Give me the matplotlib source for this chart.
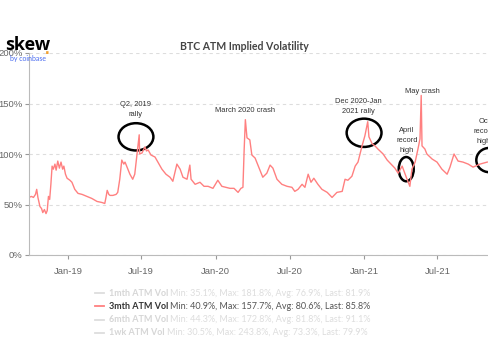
import matplotlib
matplotlib.use("Agg")
import matplotlib.pyplot as plt
import matplotlib.dates as mdates
from matplotlib.patches import Ellipse
import pandas as pd

# 3 month ATM implied vol
dates = [
    "2018-09-27", "2018-10-03", "2018-10-08", "2018-10-13", "2018-10-16", "2018-10-19",
    "2018-10-24", "2018-10-28", "2018-10-31", "2018-11-04", "2018-11-08", "2018-11-11",
    "2018-11-14", "2018-11-17", "2018-11-20", "2018-11-23", "2018-11-26", "2018-11-30",
    "2018-12-03", "2018-12-07", "2018-12-11", "2018-12-15", "2018-12-19", "2018-12-22",
    "2018-12-26", "2018-12-30", "2019-01-06", "2019-01-11", "2019-01-18", "2019-01-26",
    "2019-02-05", "2019-02-17", "2019-03-01", "2019-03-14", "2019-03-26", "2019-04-02",
    "2019-04-05", "2019-04-08", "2019-04-12", "2019-04-15", "2019-04-22", "2019-04-30",
    "2019-05-04", "2019-05-09", "2019-05-14", "2019-05-19", "2019-05-22", "2019-05-27",
    "2019-06-03", "2019-06-10", "2019-06-15", "2019-06-20", "2019-06-26", "2019-06-27",
    "2019-07-03", "2019-07-10", "2019-07-14", "2019-07-18", "2019-07-25", "2019-08-04",
    "2019-08-11", "2019-08-21", "2019-08-31", "2019-09-10", "2019-09-17", "2019-09-27",
    "2019-10-05", "2019-10-12", "2019-10-22", "2019-10-29", "2019-11-01", "2019-11-11",
    "2019-11-23", "2019-12-03", "2019-12-13", "2019-12-25", "2020-01-06", "2020-01-16",
    "2020-01-26", "2020-02-05", "2020-02-15", "2020-02-25", "2020-03-03", "2020-03-08",
    "2020-03-11", "2020-03-14", "2020-03-18", "2020-03-25", "2020-03-30", "2020-04-07",
    "2020-04-14", "2020-04-26", "2020-05-06", "2020-05-14", "2020-05-21", "2020-05-31",
    "2020-06-12", "2020-06-25", "2020-07-07", "2020-07-14", "2020-07-22", "2020-08-01",
    "2020-08-08", "2020-08-16", "2020-08-23", "2020-08-30", "2020-09-09", "2020-09-19",
    "2020-10-02", "2020-10-14", "2020-10-26", "2020-11-08", "2020-11-15", "2020-11-22",
    "2020-12-02", "2020-12-10", "2020-12-17", "2020-12-27", "2021-01-03", "2021-01-10",
    "2021-01-13", "2021-01-21", "2021-01-28", "2021-02-04", "2021-02-17", "2021-02-27",
    "2021-03-11", "2021-03-18", "2021-03-26", "2021-04-05", "2021-04-17", "2021-04-24",
    "2021-04-29", "2021-05-07", "2021-05-14", "2021-05-19", "2021-05-22", "2021-05-24",
    "2021-05-31", "2021-06-05", "2021-06-18", "2021-06-30", "2021-07-12", "2021-07-25",
    "2021-08-01", "2021-08-11", "2021-08-21", "2021-09-02", "2021-09-15", "2021-09-27",
    "2021-10-14", "2021-11-01",
]
vol_3m = [
    57, 58, 57, 60, 65, 57,
    48, 46, 42, 45, 41, 44,
    58, 55, 70, 88, 85, 90,
    84, 93, 86, 92, 85, 88,
    80, 76, 74, 72, 65, 61,
    60, 58, 56, 53, 52, 51,
    57, 64, 60, 59, 59, 60,
    62, 75, 94, 90, 92, 87,
    80, 75, 80, 98, 119, 100,
    101, 107, 103, 104, 99, 97,
    92, 85, 80, 77, 73, 90,
    85, 77, 75, 89, 75, 70,
    72, 68, 68, 66, 74, 68,
    67, 66, 66, 62, 66, 67,
    104, 134, 116, 114, 99, 96,
    89, 77, 81, 89, 86, 75,
    70, 68, 67, 63, 65, 70,
    67, 80, 72, 76, 70, 65,
    62, 57, 62, 63, 75, 74,
    78, 88, 92, 108, 118, 132,
    117, 110, 108, 105, 100, 94,
    89, 86, 81, 88, 75, 68,
    85, 92, 105, 115, 158, 108,
    105, 100, 95, 92, 85, 80,
    87, 100, 93, 92, 90, 87,
    90, 92,
]

legend_names = ["1mth ATM Vol", "3mth ATM Vol", "6mth ATM Vol", "1wk ATM Vol"]
legend_stats = [
    "Min: 35.1%, Max: 181.8%, Avg: 76.9%, Last: 81.9%",
    "Min: 40.9%, Max: 157.7%, Avg: 80.6%, Last: 85.8%",
    "Min: 44.3%, Max: 172.8%, Avg: 81.8%, Last: 91.1%",
    "Min: 30.5%, Max: 243.8%, Avg: 73.3%, Last: 79.9%",
]

plt.rcParams["font.family"] = "Liberation Sans"

df = pd.DataFrame({"date": pd.to_datetime(dates), "vol": vol_3m})

fig = plt.figure(figsize=(4.88, 3.59), dpi=100)
ax = fig.add_axes([29 / 488, 104 / 359, 470 / 488, 202 / 359])
ax.plot(df["date"], df["vol"], color="#ff8080", lw=1.0)

ax.set_xlim(pd.Timestamp("2018-09-27"), pd.Timestamp("2021-11-30"))
ax.set_ylim(0, 200)
ax.set_yticks([0, 50, 100, 150, 200])
ax.set_yticklabels(["0%", "50%", "100%", "150%", "200%"])
ax.xaxis.set_major_locator(mdates.MonthLocator(bymonth=[1, 7]))
ax.xaxis.set_major_formatter(mdates.DateFormatter("%b-%y"))
ax.tick_params(axis="both", labelsize=6.8, colors="#999999", labelcolor="#666666", length=3)
ax.tick_params(axis="x", pad=6)
ax.tick_params(axis="y", pad=1.5)
for side in ["top", "right"]:
    ax.spines[side].set_visible(False)
for side in ["left", "bottom"]:
    ax.spines[side].set_color("#bbbbbb")
ax.grid(axis="y", ls=(0, (3, 3)), color="#dddddd", lw=0.8)
ax.set_axisbelow(True)

# annotations
notes = [
    ("Q2, 2019\nrally", "2019-06-18", 144),
    ("March 2020 crash", "2020-03-13", 143),
    ("Dec 2020-Jan\n2021 rally", "2020-12-17", 147),
    ("May crash", "2021-05-26", 162),
    ("April\nrecord\nhigh", "2021-04-17", 113),
    ("Oct\nrecord\nhigh", "2021-10-24", 122),
]
for txt, d, v in notes:
    ax.text(pd.Timestamp(d), v, txt, ha="center", va="center", fontsize=5.4,
            color="#333333", linespacing=1.6, clip_on=False)

circles = [
    ("2019-06-18", 117, 86, 27),
    ("2021-01-01", 121, 86, 28),
    ("2021-04-15", 85, 37, 24),
    ("2021-11-06", 94, 64, 24),
]
for d, v, w, h in circles:
    c = mdates.date2num(pd.Timestamp(d))
    ax.add_patch(Ellipse((c, v), w, h, fill=False, ec="black", lw=1.8, clip_on=False))

fig.text(244 / 488, 1 - 47 / 359, "BTC ATM Implied Volatility", ha="center", va="center",
         fontsize=7.6, fontweight="bold", color="#444444", family="Lato")

# skew logo
fig.text(5 / 488, 1 - 45 / 359, "skew", ha="left", va="center", fontsize=13,
         fontweight="bold", color="black", family="Open Sans", zorder=5)
fig.text(45 / 488, 1 - 50 / 359, ".", ha="left", va="center", fontsize=12,
         fontweight="bold", color="#f0a030", zorder=5)
fig.text(10 / 488, 1 - 58 / 359, "by coinbase", ha="left", va="center", fontsize=5,
         color="#4a6cf0", family="Lato", zorder=5)

# legend
for i, (name, stats) in enumerate(zip(legend_names, legend_stats)):
    y = 1 - (293 + 13.3 * i) / 359
    active = i == 1
    line_col = "#ff8080" if active else "#dddddd"
    name_col = "#333333" if active else "#d6d6d6"
    stat_col = "#555555" if active else "#dddddd"
    fig.lines.append(plt.Line2D([95 / 488, 104 / 488], [y, y], color=line_col, lw=1.3,
                                transform=fig.transFigure))
    t = fig.text(109 / 488, y, name, ha="left", va="center", fontsize=6.5,
                 fontweight="bold", color=name_col, family="Lato")
    fig.canvas.draw()
    bb = t.get_window_extent()
    fig.text(bb.x1 / fig.bbox.width + 2 / 488, y, stats, ha="left", va="center",
             fontsize=6.5, color=stat_col, family="Lato")

fig.savefig("out.png", dpi=100)
